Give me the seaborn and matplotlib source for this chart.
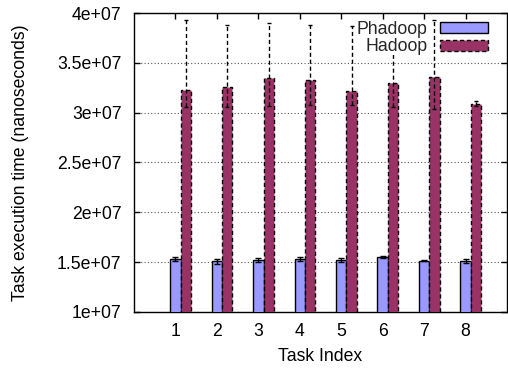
import numpy as np
import pandas as pd
import matplotlib
matplotlib.use("Agg")
import matplotlib.pyplot as plt
import seaborn as sns
from matplotlib.ticker import FuncFormatter, MultipleLocator

tasks = [1, 2, 3, 4, 5, 6, 7, 8]
phadoop = [1.529e7, 1.509e7, 1.522e7, 1.532e7, 1.522e7, 1.552e7, 1.512e7, 1.515e7]
phadoop_err = [0.22e6, 0.25e6, 0.18e6, 0.17e6, 0.17e6, 0.13e6, 0.05e6, 0.20e6]
hadoop = [3.227e7, 3.254e7, 3.351e7, 3.328e7, 3.221e7, 3.298e7, 3.361e7, 3.090e7]
hadoop_low = [3.06e7, 3.06e7, 3.067e7, 3.08e7, 3.08e7, 3.06e7, 3.037e7, 3.067e7]
hadoop_high = [3.93e7, 3.88e7, 3.90e7, 3.88e7, 3.873e7, 3.90e7, 3.93e7, 3.12e7]
series = ["Phadoop", "Hadoop"]
colors = ["#9999ff", "#993366"]

sns.set_theme(style="white")
plt.rcParams["font.family"] = ["Liberation Sans", "DejaVu Sans"]
FS = 12.7

fig = plt.figure(figsize=(5.08, 3.71), dpi=100)
ax = fig.add_axes([134 / 508, 1 - 312 / 371, (507 - 134) / 508, (312 - 13) / 371])

bw = 0.25
x_ph = np.array(tasks, dtype=float)
x_ha = x_ph + bw

df_ph = pd.DataFrame({"x": x_ph, "y": phadoop})
df_ha = pd.DataFrame({"x": x_ha, "y": hadoop})

sns.barplot(data=df_ph, x="x", y="y", native_scale=True, width=bw, color=colors[0],
            saturation=1, edgecolor="black", linewidth=1, errorbar=None, ax=ax,
            label=series[0], zorder=3)
n_before = len(ax.patches)
sns.barplot(data=df_ha, x="x", y="y", native_scale=True, width=bw, color=colors[1],
            saturation=1, edgecolor="black", linewidth=1, errorbar=None, ax=ax,
            label=series[1], zorder=3)
for p in ax.patches[n_before:]:
    p.set_linestyle((0, (3, 2)))

# error bars
ax.errorbar(x_ph, phadoop, yerr=phadoop_err, fmt="none", ecolor="black",
            elinewidth=1, capsize=2.2, capthick=1, zorder=4)
ha = np.array(hadoop)
yerr_ha = [ha - np.array(hadoop_low), np.array(hadoop_high) - ha]
eb = ax.errorbar(x_ha, hadoop, yerr=yerr_ha, fmt="none", ecolor="black",
                 elinewidth=1, capsize=1.6, capthick=1, zorder=4)
for lc in eb[2]:
    lc.set_linestyle((0, (3, 2)))

ax.set_xlim(0, 9)
ax.set_ylim(1e7, 4e7)
ax.set_xticks(tasks)
ax.set_xticklabels([str(t) for t in tasks])
ax.yaxis.set_major_locator(MultipleLocator(5e6))
ax.yaxis.set_major_formatter(FuncFormatter(lambda v, p: "%g" % v))

ax.grid(axis="y", color="0.35", linestyle=(0, (1, 2)), linewidth=0.8, zorder=0)
ax.grid(axis="x", visible=False)
ax.set_axisbelow(True)

for s in ax.spines.values():
    s.set_color("black")
    s.set_linewidth(1)
    s.set_visible(True)

ax.tick_params(axis="x", direction="in", length=4, width=1, colors="black",
               top=True, bottom=True, labelsize=FS, pad=8)
ax.tick_params(axis="y", direction="in", length=4, width=1, colors="black",
               left=True, right=True, labelsize=FS, pad=9)

ax.set_xlabel("Task Index", fontsize=FS, color="black", labelpad=6)
ax.set_ylabel("Task execution time (nanoseconds)", fontsize=FS, color="black", labelpad=20)

leg = ax.legend(loc="upper right", bbox_to_anchor=((488 - 134) / 373, 1 - (21 - 13) / 299),
                frameon=False, markerfirst=False, fontsize=FS, handlelength=2.73,
                handleheight=0.57, handletextpad=0.68, labelspacing=0.02,
                borderpad=0, borderaxespad=0)
for t in leg.get_texts():
    t.set_bbox(dict(facecolor="white", edgecolor="none", pad=0))
hs = leg.legend_handles
hs[1].set_linestyle((0, (3, 2)))

fig.savefig("out.png", dpi=100)
